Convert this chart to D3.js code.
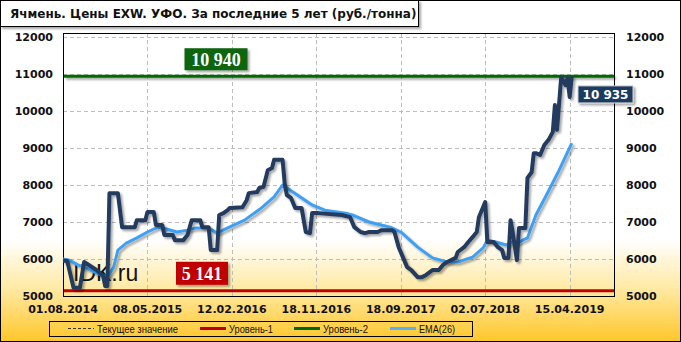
<!DOCTYPE html>
<meta charset="utf-8">
<style>
  body { margin: 0; }
  svg { display: block; }
</style>
<script src="https://d3js.org/d3.v7.min.js"></script>
<div id="chart"></div>
<script>

// ---- data (weekly points, index = week number) ----
const tickWeeks  = [0, 40, 80, 120, 160, 200, 240];
const tickLabels = ["01.08.2014", "08.05.2015", "12.02.2016", "18.11.2016", "18.09.2017", "02.07.2018", "15.04.2019"];
const yTicks = [5000, 6000, 7000, 8000, 9000, 10000, 11000, 12000];

const priceWeek  = [0, 2, 5, 8, 10, 16, 19, 20, 21, 22, 26, 28, 34, 35, 39, 40, 43, 44, 47, 48, 52, 53, 57, 59, 60, 61, 65, 66, 69, 70, 73, 74, 76, 78, 79, 85, 87, 88, 92, 93, 95, 97, 99, 100, 104, 105, 106, 108, 110, 113, 115, 117, 118, 121, 132, 136, 138, 141, 143, 145, 149, 151, 156, 157, 159, 163, 165, 168, 170, 172, 175, 178, 180, 182, 186, 187, 190, 192, 194, 196, 197, 200, 201, 204, 206, 208, 209, 211, 212, 213, 215, 216, 219, 220, 222, 223, 224, 226, 228, 230, 232, 233, 234, 236, 238, 239, 240, 241];
const priceValue = [5950, 5950, 5220, 5220, 5920, 5700, 5540, 5270, 5270, 7780, 7780, 6860, 6860, 7050, 7050, 7270, 7270, 6920, 6920, 6650, 6650, 6510, 6510, 6650, 6860, 7050, 7050, 6860, 6860, 6240, 6240, 7190, 7240, 7320, 7380, 7400, 7590, 7780, 7810, 7920, 7950, 8400, 8460, 8680, 8680, 8050, 7730, 7650, 7380, 7380, 6730, 6700, 7240, 7240, 7190, 7130, 6860, 6730, 6700, 6730, 6730, 6780, 6780, 6730, 6320, 5780, 5700, 5510, 5510, 5570, 5700, 5700, 5840, 5920, 6030, 6190, 6320, 6460, 6590, 6730, 7130, 7540, 6460, 6460, 6320, 6240, 6030, 6030, 7050, 6730, 5970, 6840, 6840, 8190, 8350, 8860, 8860, 8810, 9080, 9220, 9430, 10160, 9490, 10920, 10700, 10890, 10380, 10935];

const emaWeek  = [0, 3, 7, 11, 16, 21, 24, 26, 30, 35, 40, 45, 49, 54, 59, 63, 69, 73, 78, 86, 94, 100, 104, 111, 118, 124, 134, 137, 145, 155, 160, 168, 175, 182, 187, 194, 199, 201, 205, 210, 213, 215, 220, 224, 229, 235, 241];
const emaValue = [6000, 5970, 5840, 5760, 5620, 5510, 5780, 6240, 6430, 6570, 6730, 6860, 6810, 6730, 6780, 6840, 6840, 6700, 6840, 7050, 7380, 7680, 8000, 7730, 7460, 7320, 7240, 7190, 7000, 6860, 6730, 6320, 6030, 5920, 5920, 6050, 6300, 6510, 6460, 6380, 6460, 6430, 6570, 7190, 7730, 8400, 9130];

const level1 = 5141;
const level2 = 10940;
const current = 10935;

const legendNames = ["Текущее значение", "Уровень-1", "Уровень-2", "EMA(26)"];
const title = "Ячмень. Цены EXW. УФО. За последние 5 лет (руб./тонна)";

// ---- layout ----
const W = 681, H = 342;
const plot = {left: 63, right: 614, top: 33, bottom: 296};

const svg = d3.select("#chart").append("svg")
  .attr("width", W).attr("height", H)
  .style("font-family", "'DejaVu Sans', sans-serif");

const defs = svg.append("defs");
const grad = defs.append("linearGradient").attr("id", "bg")
  .attr("x1", 0).attr("y1", 0).attr("x2", 0).attr("y2", 1);
grad.append("stop").attr("offset", "0").attr("stop-color", "#ffffff");
grad.append("stop").attr("offset", "0.70").attr("stop-color", "#ffffff");
grad.append("stop").attr("offset", "0.84").attr("stop-color", "#ffeaa6");
grad.append("stop").attr("offset", "1").attr("stop-color", "#ffc629");

// user-space filter so that flat lines keep their shadow too
const shadow = defs.append("filter").attr("id", "shadow")
  .attr("filterUnits", "userSpaceOnUse")
  .attr("x", 0).attr("y", 0).attr("width", W).attr("height", H);
shadow.append("feDropShadow").attr("dx", 2).attr("dy", 2)
  .attr("stdDeviation", 1.2).attr("flood-color", "#000").attr("flood-opacity", 0.35);

// background + frame
svg.append("rect").attr("width", W).attr("height", H).attr("fill", "url(#bg)");
svg.append("rect").attr("x", 0.5).attr("y", 0.5).attr("width", W - 1).attr("height", H - 1)
  .attr("fill", "none").attr("stroke", "#000");

// scales
const x = d3.scaleLinear().domain([0, 261]).range([plot.left, plot.right]);
const y = d3.scaleLinear().domain([5000, 12000]).range([plot.bottom, 37]);

// grid
const grid = svg.append("g").attr("stroke", "#bdbdbd").attr("stroke-dasharray", "4,3");
grid.selectAll(".hg").data(yTicks.slice(1)).join("line")
  .attr("x1", plot.left).attr("x2", plot.right)
  .attr("y1", d => Math.round(y(d)) + 0.5).attr("y2", d => Math.round(y(d)) + 0.5);
grid.selectAll(".vg").data(tickWeeks.slice(1)).join("line")
  .attr("y1", plot.top).attr("y2", plot.bottom)
  .attr("x1", d => Math.round(x(d)) + 0.5).attr("x2", d => Math.round(x(d)) + 0.5);

// plot border
svg.append("rect").attr("x", plot.left + 0.5).attr("y", plot.top + 0.5)
  .attr("width", plot.right - plot.left).attr("height", plot.bottom - plot.top)
  .attr("fill", "none").attr("stroke", "#000");

// axes labels
const axisFont = g => g.attr("font-size", 11).attr("font-weight", "bold").attr("fill", "#111");
svg.append("g").call(axisFont).selectAll("text").data(yTicks).join("text")
  .attr("x", 53).attr("y", d => y(d) + 4).attr("text-anchor", "end").text(d => d);
svg.append("g").call(axisFont).selectAll("text").data(yTicks).join("text")
  .attr("x", 626).attr("y", d => y(d) + 4).attr("text-anchor", "start").text(d => d);
svg.append("g").call(axisFont).selectAll("text").data(tickWeeks).join("text")
  .attr("x", d => x(d)).attr("y", 313).attr("text-anchor", "middle")
  .text((d, i) => tickLabels[i]);

// level lines
svg.append("line").attr("x1", plot.left + 1).attr("x2", plot.right)
  .attr("y1", y(level1)).attr("y2", y(level1))
  .attr("stroke", "#c00000").attr("stroke-width", 3);
svg.append("line").attr("x1", plot.left + 1).attr("x2", plot.right)
  .attr("y1", y(level2)).attr("y2", y(level2))
  .attr("stroke", "#006a00").attr("stroke-width", 3).attr("filter", "url(#shadow)");

// watermark
svg.append("text").attr("x", 73).attr("y", 281)
  .attr("font-family", "'Liberation Sans', Arial, sans-serif")
  .attr("font-size", 23).attr("fill", "#111").text("IDK.ru");

// series
const line = d3.line().x(d => x(d[0])).y(d => y(d[1]));
svg.append("path")
  .datum(emaWeek.map((w, i) => [w, emaValue[i]]))
  .attr("d", line).attr("fill", "none")
  .attr("stroke", "#3da0f5").attr("stroke-width", 3)
  .attr("stroke-linejoin", "round").attr("filter", "url(#shadow)");
svg.append("path")
  .datum(priceWeek.map((w, i) => [w, priceValue[i]]))
  .attr("d", line).attr("fill", "none")
  .attr("stroke", "#243b5e").attr("stroke-width", 4)
  .attr("stroke-linejoin", "round").attr("filter", "url(#shadow)");

// value boxes
function valueBox(cx, top, w, h, fill, txt, font, size) {
  svg.append("rect").attr("x", cx - w / 2).attr("y", top).attr("width", w).attr("height", h)
    .attr("fill", fill).attr("filter", "url(#shadow)");
  svg.append("text").attr("x", cx).attr("y", top + h / 2 + size * 0.36)
    .attr("text-anchor", "middle").attr("font-family", font)
    .attr("font-size", size).attr("font-weight", "bold").attr("fill", "#fff")
    .text(txt);
}
const fmt = v => d3.format(",")(v).replace(",", " ");
valueBox(216, y(level2) - 28, 63, 22, "#0b650b", fmt(level2), "'Liberation Serif', serif", 18);
valueBox(202, y(level1) - 29, 52, 23, "#c00000", fmt(level1), "'Liberation Serif', serif", 18);
svg.append("rect").attr("x", 578).attr("y", y(current) + 9.5).attr("width", 55).attr("height", 17)
  .attr("fill", "#1f3a60").attr("stroke", "#d0d0d0").attr("filter", "url(#shadow)");
svg.append("text").attr("x", 605.5).attr("y", y(current) + 22.5)
  .attr("text-anchor", "middle").attr("font-size", 12).attr("font-weight", "bold")
  .attr("fill", "#fff").text(fmt(current));

// title box
svg.append("rect").attr("x", 0.5).attr("y", 0.5).attr("width", 418).attr("height", 26)
  .attr("fill", "#fff").attr("stroke", "#000").attr("filter", "url(#shadow)");
svg.append("text").attr("x", 10).attr("y", 18)
  .attr("font-size", 12).attr("font-weight", "bold").attr("fill", "#111").text(title);

// legend
const lg = svg.append("g");
lg.append("rect").attr("x", 49.5).attr("y", 321.5).attr("width", 423).attr("height", 15)
  .attr("fill", "none").attr("stroke", "#000");
const legendItems = [
  {x: 68, color: "#333", dash: "3,2", w: 1, tw: 81},
  {x: 200, color: "#c00000", dash: null, w: 3, tw: 44},
  {x: 294, color: "#006a00", dash: null, w: 3, tw: 45},
  {x: 390, color: "#5ab0f5", dash: null, w: 3, tw: 36}
];
legendItems.forEach((d, i) => {
  lg.append("line").attr("x1", d.x).attr("x2", d.x + 26).attr("y1", 328.5).attr("y2", 328.5)
    .attr("stroke", d.color).attr("stroke-width", d.w).attr("stroke-dasharray", d.dash);
  lg.append("text").attr("x", d.x + 29).attr("y", 333)
    .attr("font-family", "'Liberation Sans', Arial, sans-serif")
    .attr("font-size", 11).attr("fill", "#111")
    .attr("textLength", d.tw).attr("lengthAdjust", "spacingAndGlyphs")
    .text(legendNames[i]);
});
</script>
